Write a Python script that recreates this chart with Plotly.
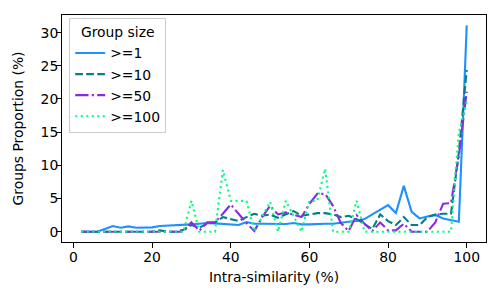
import plotly.graph_objects as go

x_vals = list(range(2, 101, 2))

ge1 = [0.0, 0.0, 0.0, 0.4, 0.85, 0.6, 0.8, 0.6, 0.6, 0.65,
       0.85, 0.9, 0.9, 1.0, 1.1, 1.2, 1.3, 1.25, 1.2, 1.15,
       1.0, 1.45, 1.2, 1.2, 1.2, 1.1, 1.15, 1.3, 1.1, 1.1,
       1.2, 1.2, 1.2, 1.4, 1.5, 1.6, 1.9, 2.6, 3.3, 4.0,
       2.8, 6.9, 3.0, 2.0, 2.3, 2.5, 2.0, 1.8, 1.5, 31.1]

ge10 = [0.0, 0.0, 0.0, 0.0, 0.0, 0.0, 0.0, 0.0, 0.0, 0.0,
        0.2, 0.0, 0.0, 0.3, 1.0, 0.6, 1.2, 1.4, 2.2, 1.9,
        1.6, 2.2, 2.7, 2.4, 2.6, 2.1, 2.6, 3.1, 2.4, 2.6,
        2.8, 2.8, 2.6, 2.2, 2.4, 1.9, 1.2, 0.4, 2.6, 1.6,
        1.0, 2.2, 1.0, 1.0, 2.2, 2.6, 2.7, 2.7, 12.0, 24.4]

ge50 = [0.0, 0.0, 0.0, 0.0, 0.0, 0.0, 0.0, 0.0, 0.0, 0.0,
        0.0, 0.0, 0.0, 0.0, 1.4, 0.15, 1.4, 1.4, 2.7, 4.1,
        2.7, 1.3, 0.1, 2.2, 3.9, 2.6, 2.9, 2.6, 2.2, 4.2,
        5.7, 5.7, 3.9, 1.3, 0.1, 2.5, 1.2, 0.1, 1.4, 0.2,
        0.2, 1.2, 0.0, 0.0, 0.0, 1.4, 4.2, 4.3, 11.5, 21.1]

ge100 = [0.0, 0.0, 0.0, 0.0, 0.0, 0.0, 0.0, 0.0, 0.0, 0.0,
         0.0, 0.0, 0.0, 0.0, 4.65, 0.0, 0.0, 0.0, 9.3, 4.65,
         4.65, 4.65, 0.0, 2.33, 4.5, 0.0, 4.65, 2.33, 0.0, 4.65,
         4.65, 9.5, 0.0, 0.0, 0.0, 4.65, 0.0, 0.0, 0.0, 0.0,
         0.0, 0.0, 0.0, 0.0, 0.0, 0.0, 0.0, 0.0, 15.0, 19.5]

series_names = [">=1", ">=10", ">=50", ">=100"]
series_vals = [ge1, ge10, ge50, ge100]
colors = ["#1E90FF", "#008080", "#8A2BE2", "#00FF7F"]
dashes = ["solid", "7.7px,3.3px", "13.3px,3.3px,2.1px,3.3px", "2.1px,3.4px"]

FONT = "DejaVu Sans"
fig = go.Figure()
for name, vals, c, d in zip(series_names, series_vals, colors, dashes):
    fig.add_trace(go.Scatter(x=x_vals, y=vals, mode="lines", name=name,
                             line=dict(color=c, width=2.1, dash=d)))

axis_common = dict(showline=True, mirror=True, linecolor="black", linewidth=1.1,
                   ticks="outside", ticklen=4.9, tickwidth=1.1, tickcolor="black",
                   showgrid=False, zeroline=False, automargin=False,
                   tickfont=dict(family=FONT, size=13.9, color="black"))

# page body has an 8px margin, so the figure is drawn offset by 8px
fig.update_layout(
    width=500, height=300,
    margin=dict(l=54, r=22, t=7, b=66),
    paper_bgcolor="white", plot_bgcolor="white",
    font=dict(family=FONT, size=13.9, color="black"),
    xaxis=dict(range=[-2.9, 104.9], tickvals=[0, 20, 40, 60, 80, 100],
               ticklabelstandoff=-3,
               title=dict(text="Intra-similarity (%)", standoff=8,
                          font=dict(family=FONT, size=13.9)),
               **axis_common),
    yaxis=dict(range=[-1.555, 32.66], tickvals=[0, 5, 10, 15, 20, 25, 30],
               ticklabelstandoff=-5,
               title=dict(text="Groups Proportion (%)", standoff=13,
                          font=dict(family=FONT, size=13.9)),
               **axis_common),
    legend=dict(x=0.017, y=0.985, xanchor="left", yanchor="top",
                bgcolor="rgba(255,255,255,0.8)", bordercolor="#cccccc", borderwidth=1,
                font=dict(family=FONT, size=13.9),
                title=dict(text="Group size", side="top center",
                           font=dict(family=FONT, size=13.9))),
    showlegend=True,
)

fig.write_html("out.html")
